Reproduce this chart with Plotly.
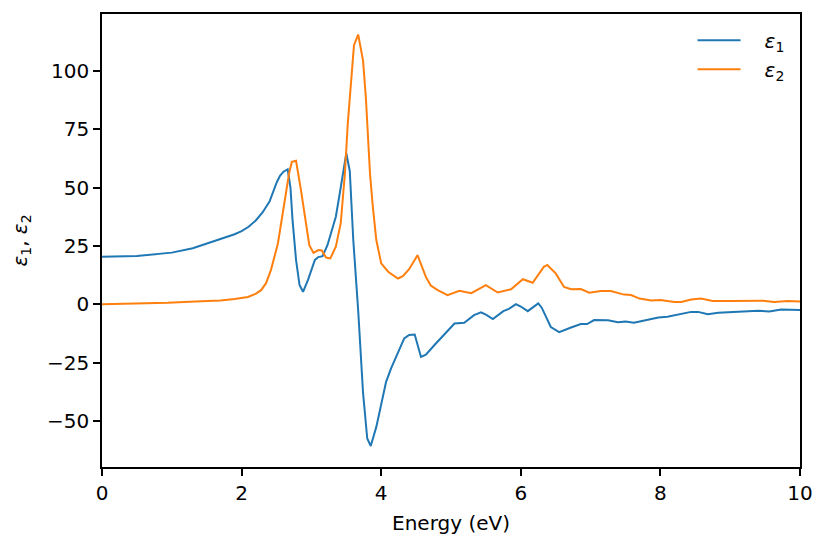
import plotly.graph_objects as go

# epsilon_1 (real part)
energy_eps1 = [0.0, 0.5, 1.0, 1.3, 1.6, 1.8, 1.9, 2.0, 2.1, 2.2, 2.3, 2.4, 2.45, 2.5, 2.55, 2.6, 2.66, 2.7, 2.73,
               2.78, 2.83, 2.88, 2.95, 3.0, 3.05, 3.1, 3.16, 3.23, 3.3, 3.35, 3.42, 3.5, 3.55,
               3.6, 3.67, 3.74, 3.8, 3.85, 3.93, 4.0, 4.07, 4.14, 4.24, 4.33, 4.4, 4.48, 4.57,
               4.64, 4.76, 4.9, 5.05, 5.19, 5.33, 5.43, 5.5, 5.6, 5.75, 5.83, 5.93, 6.0, 6.1,
               6.25, 6.3, 6.43, 6.55, 6.72, 6.86, 6.95, 7.05, 7.25, 7.39, 7.5, 7.62, 7.77,
               7.97, 8.1, 8.3, 8.44, 8.54, 8.68, 8.83, 9.11, 9.4, 9.56, 9.73, 10.0]
eps1 = [20.3, 20.7, 22.1, 24.0, 27.0, 28.8, 30.0, 31.3, 33.2, 35.8, 39.3, 44.0, 48.2, 52.0, 55.0, 56.8, 57.8, 50.0, 36.0,
        19.0, 8.2, 5.3, 10.3, 15.0, 19.0, 20.2, 20.6, 25.3, 32.0, 37.5, 50.0, 64.7, 57.0,
        27.5, -2.6, -38.0, -57.6, -60.8, -52.6, -42.6, -33.3, -27.6, -21.0, -14.7, -13.2, -13.0, -22.6,
        -21.6, -17.6, -13.3, -8.3, -8.0, -4.7, -3.5, -4.5, -6.4, -3.0, -2.0, 0.0, -1.0, -3.0,
        0.3, -1.5, -9.8, -12.0, -10.0, -8.5, -8.5, -6.8, -6.9, -7.7, -7.4, -8.0, -7.0,
        -5.7, -5.4, -4.3, -3.3, -3.3, -4.3, -3.7, -3.1, -2.8, -3.1, -2.3, -2.5]

# epsilon_2 (imaginary part)
energy_eps2 = [0.0, 0.5, 0.94, 1.42, 1.7, 1.9, 2.09, 2.2, 2.28, 2.35, 2.42, 2.52, 2.61, 2.68, 2.72,
               2.78, 2.85, 2.92, 2.97, 3.03, 3.1, 3.15, 3.21, 3.27, 3.35, 3.42, 3.48, 3.52,
               3.57, 3.61, 3.67, 3.74, 3.78, 3.84, 3.88, 3.93, 4.0, 4.1, 4.24, 4.31, 4.4, 4.52,
               4.64, 4.71, 4.81, 4.95, 5.12, 5.29, 5.5, 5.67, 5.86, 6.03, 6.17, 6.33, 6.38, 6.5,
               6.62, 6.72, 6.86, 6.98, 7.15, 7.29, 7.48, 7.58, 7.7, 7.87, 8.0, 8.2, 8.3, 8.44,
               8.58, 8.75, 9.0, 9.25, 9.47, 9.63, 9.83, 10.0]
eps2 = [0.0, 0.3, 0.6, 1.3, 1.6, 2.2, 3.1, 4.4, 6.0, 9.0, 14.6, 26.0, 43.0, 56.0, 61.0,
        61.5, 49.0, 34.6, 25.3, 22.0, 23.2, 23.0, 20.0, 19.6, 24.6, 34.6, 56.0, 77.0,
        97.0, 111.0, 115.6, 104.4, 88.7, 55.8, 41.8, 27.5, 17.5, 13.9, 11.0, 12.0, 15.0, 21.0,
        11.7, 8.0, 6.0, 3.9, 5.7, 4.7, 8.2, 5.0, 6.4, 10.7, 9.2, 16.0, 16.8, 13.2,
        7.4, 6.4, 6.5, 4.9, 5.6, 5.6, 4.1, 3.9, 2.4, 1.6, 1.8, 0.9, 0.9, 2.0,
        2.4, 1.4, 1.4, 1.3, 1.5, 0.9, 1.4, 1.2]

x_ticks = [0, 2, 4, 6, 8, 10]
y_ticks = [-50, -25, 0, 25, 50, 75, 100]

fig = go.Figure()
fig.add_trace(go.Scatter(x=energy_eps1, y=eps1, mode="lines",
                         name="\u00a0\u00a0\u00a0<i>ε</i><sub>1</sub>",
                         line=dict(color="#1f77b4", width=2)))
fig.add_trace(go.Scatter(x=energy_eps2, y=eps2, mode="lines",
                         name="\u00a0\u00a0\u00a0<i>ε</i><sub>2</sub>",
                         line=dict(color="#ff7f0e", width=2)))

axis_common = dict(showgrid=False, zeroline=False, showline=True, linecolor="black",
                   linewidth=1.6, mirror=True, ticks="outside", ticklen=7, tickwidth=1.6,
                   tickcolor="black", tickfont=dict(size=20, color="black"))

fig.update_xaxes(range=[0, 10], tickvals=x_ticks,
                 title=dict(text="Energy (eV)", font=dict(size=20, color="black"), standoff=12),
                 **axis_common)
fig.update_yaxes(range=[-69.8, 124.4], tickvals=y_ticks,
                 ticktext=[("−" + str(-v)) if v < 0 else str(v) for v in y_ticks],
                 title=dict(text="<i>ε</i><sub>1</sub>, <i>ε</i><sub>2</sub>",
                            font=dict(size=20, color="black"), standoff=16),
                 **axis_common)

fig.update_layout(
    width=827, height=545,
    margin=dict(l=94, r=35, t=6, b=86, autoexpand=False),
    plot_bgcolor="white", paper_bgcolor="white",
    font=dict(family="DejaVu Sans", size=20, color="black"),
    legend=dict(x=0.985, y=0.985, xanchor="right", yanchor="top",
                bgcolor="rgba(0,0,0,0)", borderwidth=0, itemwidth=43,
                font=dict(size=20)),
)

fig.write_html("out.html")
